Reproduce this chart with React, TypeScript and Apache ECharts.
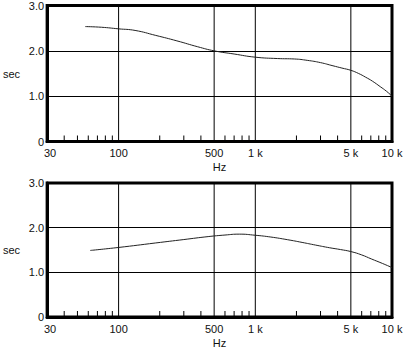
import React, { useEffect, useRef } from "react";
import * as echarts from "echarts";

// Upper panel curve (frequency in Hz, reverberation time in sec)
const topFreq = [57, 75, 100, 132, 187, 267, 379, 500, 700, 1000, 1450, 1940, 2400, 3000, 3700, 4300, 5000, 5700, 6400, 7200, 8200, 9100, 10000];
const topSec = [2.535, 2.52, 2.485, 2.45, 2.34, 2.22, 2.09, 2.0, 1.93, 1.86, 1.83, 1.82, 1.79, 1.74, 1.67, 1.62, 1.57, 1.5, 1.42, 1.33, 1.21, 1.11, 1.0];

// Lower panel curve
const botFreq = [62, 100, 187, 300, 452, 600, 763, 1000, 1300, 1726, 2200, 2761, 3500, 4200, 5000, 6000, 7060, 8500, 10000];
const botSec = [1.49, 1.557, 1.658, 1.734, 1.8, 1.835, 1.855, 1.83, 1.79, 1.73, 1.67, 1.61, 1.55, 1.51, 1.465, 1.39, 1.3, 1.2, 1.107];

// Axis decorations
const xLabelValues = [30, 100, 500, 1000, 5000, 10000];
const xLabelTexts = ["30", "100", "500", "1 k", "5 k", "10 k"];
const majorGridFreq = [100, 500, 1000, 5000];
const minorTickFreq = [40, 50, 60, 70, 80, 90, 200, 300, 400, 600, 700, 800, 900, 2000, 3000, 4000, 6000, 7000, 8000, 9000];
const yTicks = [0, 1, 2, 3];

const FONT = '"Liberation Sans", Arial, Helvetica, sans-serif';
const TEXT = "#111";

function panelSeries(i: number, freqs: number[], secs: number[]) {
  return [
    {
      type: "custom",
      xAxisIndex: i,
      yAxisIndex: i,
      z: 3,
      data: majorGridFreq.map((f) => [f, 0]),
      renderItem: (_p: any, api: any) => {
        const a = api.coord([api.value(0), 0]);
        const b = api.coord([api.value(0), 3]);
        return {
          type: "line",
          shape: { x1: a[0], y1: a[1], x2: b[0], y2: b[1] },
          style: { stroke: "#000", lineWidth: 1 },
        };
      },
    },
    {
      type: "custom",
      xAxisIndex: i,
      yAxisIndex: i,
      z: 3,
      data: minorTickFreq.map((f) => [f, 0]),
      renderItem: (_p: any, api: any) => {
        const a = api.coord([api.value(0), 0]);
        return {
          type: "line",
          shape: { x1: a[0], y1: a[1], x2: a[0], y2: a[1] - 6 },
          style: { stroke: "#000", lineWidth: 1 },
        };
      },
    },
    {
      type: "custom",
      xAxisIndex: i,
      yAxisIndex: i,
      z: 3,
      data: xLabelValues.map((f) => [f, 0]),
      renderItem: (p: any, api: any) => {
        const a = api.coord([api.value(0), 0]);
        const dx = p.dataIndex === 0 ? 3 : 0;
        return {
          type: "text",
          x: a[0] + dx,
          y: a[1] + 6,
          style: {
            text: xLabelTexts[p.dataIndex],
            textAlign: "center",
            textVerticalAlign: "top",
            fontSize: 11,
            fontFamily: FONT,
            fill: TEXT,
          },
        };
      },
    },
    {
      type: "line",
      xAxisIndex: i,
      yAxisIndex: i,
      z: 5,
      data: freqs.map((f, k) => [f, secs[k]]),
      smooth: 0.5,
      showSymbol: false,
      symbol: "none",
      lineStyle: { color: "#222", width: 1 },
    },
  ];
}

function xAxisCfg(i: number) {
  return {
    type: "log",
    gridIndex: i,
    logBase: 10,
    min: 30,
    max: 10000,
    axisLine: { show: true, lineStyle: { color: "#000", width: 3 } },
    axisTick: { show: false },
    axisLabel: { show: false },
    splitLine: { show: false },
    name: "Hz",
    nameLocation: "middle",
    nameGap: 20,
    nameTextStyle: { fontSize: 11, fontFamily: FONT, color: TEXT },
  };
}

function yAxisCfg(i: number) {
  return {
    type: "value",
    gridIndex: i,
    min: yTicks[0],
    max: yTicks[yTicks.length - 1],
    interval: 1,
    axisLine: { show: true, lineStyle: { color: "#000", width: 3 } },
    axisTick: { show: false },
    axisLabel: {
      margin: 3,
      fontSize: 11,
      fontFamily: FONT,
      color: TEXT,
      formatter: (v: number) => (v === 0 ? "0" : v.toFixed(1)),
    },
    splitLine: { show: true, lineStyle: { color: "#000", width: 1 } },
    name: "sec",
    nameLocation: "middle",
    nameRotate: 0,
    nameGap: 27,
    nameTextStyle: { fontSize: 11, fontFamily: FONT, color: TEXT },
  };
}

export default function App() {
  const ref = useRef<HTMLDivElement>(null);
  useEffect(() => {
    document.body.style.margin = "0";
    if (!ref.current) return;
    const chart = echarts.init(ref.current, undefined, { renderer: "svg" });
    chart.setOption({
      animation: false,
      backgroundColor: "#fff",
      grid: [
        { left: 46, top: 4.5, width: 346, height: 137, show: true, borderColor: "#000", borderWidth: 3, backgroundColor: "transparent" },
        { left: 46, top: 183, width: 346, height: 137.5, show: true, borderColor: "#000", borderWidth: 3, backgroundColor: "transparent" },
      ],
      xAxis: [xAxisCfg(0), xAxisCfg(1)],
      yAxis: [yAxisCfg(0), yAxisCfg(1)],
      series: [...panelSeries(0, topFreq, topSec), ...panelSeries(1, botFreq, botSec)],
    });
    return () => chart.dispose();
  }, []);
  return <div ref={ref} style={{ position: "absolute", left: 0, top: 0, width: 404, height: 349 }} />;
}
